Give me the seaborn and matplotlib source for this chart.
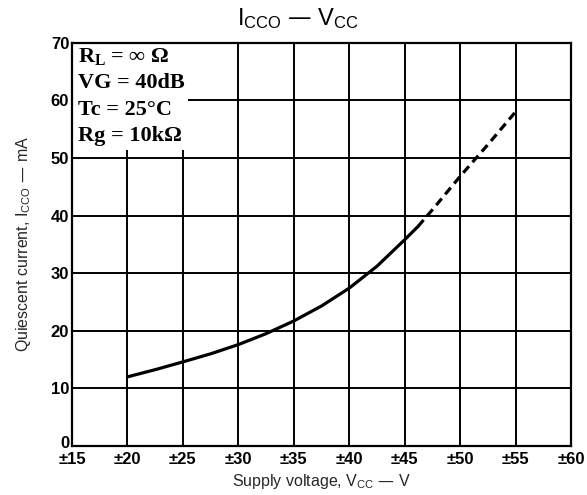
import matplotlib
matplotlib.use("Agg")
import matplotlib.pyplot as plt
import seaborn as sns
import pandas as pd
from matplotlib.patches import Rectangle
from matplotlib.transforms import ScaledTranslation

# ---- data ----
v_solid = [20, 22.5, 25, 27.5, 30, 32.5, 35, 37.5, 40, 42.5, 45, 46.2]
i_solid = [12.0, 13.25, 14.6, 16.0, 17.6, 19.5, 21.7, 24.3, 27.4, 31.2, 35.8, 38.1]
v_dash = [46.2, 47.5, 50, 52.5, 55]
i_dash = [38.1, 41.0, 46.8, 52.3, 58.0]

x_ticks = [15, 20, 25, 30, 35, 40, 45, 50, 55, 60]
x_tick_labels = ["±15", "±20", "±25", "±30", "±35", "±40", "±45", "±50", "±55", "±60"]
y_ticks = [0, 10, 20, 30, 40, 50, 60, 70]
y_tick_labels = ["0", "10", "20", "30", "40", "50", "60", "70"]

conditions = [r"$\mathregular{R_L}$ = ∞ Ω", "VG = 40dB", "Tc = 25°C", "Rg = 10kΩ"]

title = r"$\mathregular{I_{CCO}}$ — $\mathregular{V_{CC}}$"
xlabel = r"Supply voltage, $\mathregular{V_{CC}}$ — V"
ylabel = r"Quiescent current, $\mathregular{I_{CCO}}$ — mA"

sns.set_theme(style="white")
plt.rcParams["font.family"] = ["Liberation Sans", "DejaVu Sans"]
plt.rcParams["axes.edgecolor"] = "black"
plt.rcParams["text.color"] = "black"

fig = plt.figure(figsize=(5.87, 4.95), dpi=100)
ax = fig.add_axes([0.1227, 0.099, 0.8500, 0.8147])

df_s = pd.DataFrame({"v": v_solid, "i": i_solid})
df_d = pd.DataFrame({"v": v_dash, "i": i_dash})
sns.lineplot(data=df_s, x="v", y="i", ax=ax, color="black", linewidth=2.3,
             sort=False, estimator=None, zorder=3)
sns.lineplot(data=df_d, x="v", y="i", ax=ax, color="black", linewidth=2.3,
             sort=False, estimator=None, zorder=3)
ax.lines[-1].set_dashes((2.7, 1.7))

ax.set_xlim(15, 60)
ax.set_ylim(0, 70)
ax.set_xticks(x_ticks)
ax.set_xticklabels(x_tick_labels, fontsize=12, fontweight="bold")
ax.set_yticks(y_ticks)
ax.set_yticklabels(y_tick_labels, fontsize=12, fontweight="bold")
ax.tick_params(axis="x", length=0, pad=4, colors="black")
ax.tick_params(axis="y", length=0, pad=2, colors="black")
zero_lbl = ax.get_yticklabels()[0]
zero_lbl.set_transform(zero_lbl.get_transform() + ScaledTranslation(0, 4 / 100, fig.dpi_scale_trans))
ax.set_axisbelow(True)
ax.grid(True, color="black", linewidth=1.4)
for sp in ax.spines.values():
    sp.set_color("black")
    sp.set_linewidth(1.6)
    sp.set_visible(True)

ax.set_xlabel(xlabel, fontsize=11.5, labelpad=4)
ax.set_ylabel(ylabel, fontsize=11.5, labelpad=13)

# condition box (white, hides grid)
ax.add_patch(Rectangle((0, 0.7345), 0.2325, 0.2655, transform=ax.transAxes,
                       facecolor="white", edgecolor="none", zorder=1.5))
ys = [0.953, 0.888, 0.821, 0.757]
for t, y in zip(conditions, ys):
    ax.text(0.012, y, t, transform=ax.transAxes, fontsize=16, fontweight="bold",
            family=["Liberation Serif", "DejaVu Serif"], va="baseline", ha="left",
            zorder=4)

fig.text(298 / 587, 1 - 25 / 495, title, fontsize=17, ha="center", va="baseline")

fig.savefig("out.png", dpi=100)
